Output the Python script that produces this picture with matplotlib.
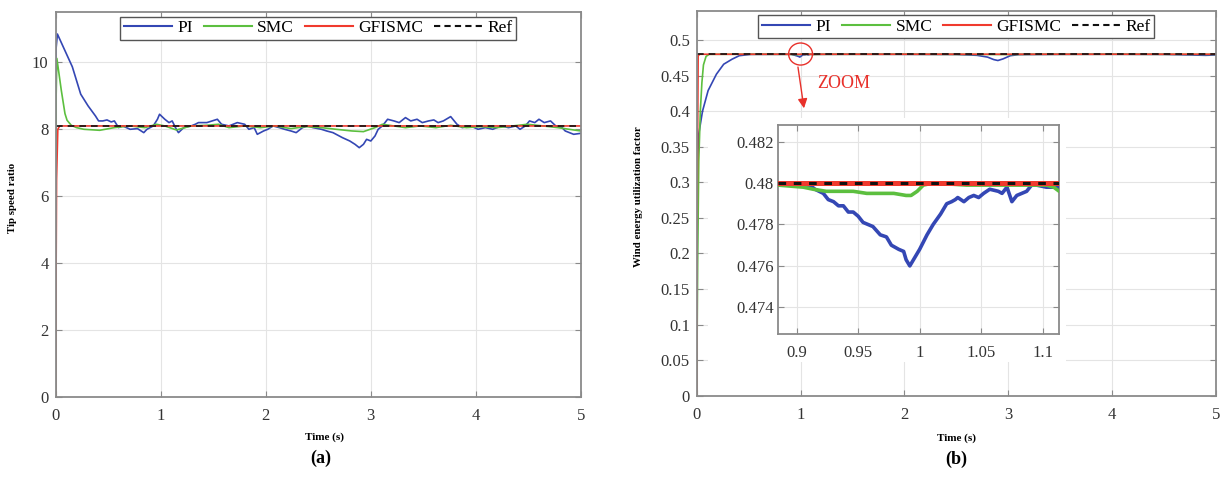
import matplotlib
matplotlib.use("Agg")
import matplotlib.pyplot as plt
import matplotlib.patches as mpatches
from matplotlib.lines import Line2D

plt.rcParams["font.family"] = ["Liberation Serif", "DejaVu Serif"]

# ---- data: panel (a) tip speed ratio ----
TSR_REF = 8.1
TSR_PI = [
    (0, 0), (0.005, 10.4), (0.018, 10.85), (0.073, 10.47), (0.16, 9.87), (0.24, 9.05),
    (0.31, 8.7), (0.38, 8.4), (0.41, 8.25), (0.45, 8.25), (0.49, 8.28), (0.53, 8.22),
    (0.56, 8.25), (0.6, 8.05), (0.64, 8.1), (0.71, 8.0), (0.78, 8.02), (0.84, 7.9),
    (0.87, 8.0), (0.93, 8.1), (0.97, 8.3), (0.99, 8.45), (1.04, 8.3), (1.08, 8.2),
    (1.11, 8.25), (1.15, 8.0), (1.17, 7.9), (1.22, 8.05), (1.29, 8.1), (1.33, 8.15),
    (1.36, 8.2), (1.44, 8.2), (1.54, 8.3), (1.58, 8.15), (1.65, 8.1), (1.73, 8.2),
    (1.8, 8.15), (1.84, 8.0), (1.89, 8.05), (1.92, 7.85), (1.98, 7.95), (2.02, 8.0),
    (2.07, 8.1), (2.13, 8.05), (2.18, 8.0), (2.24, 7.95), (2.29, 7.9), (2.35, 8.05),
    (2.4, 8.1), (2.45, 8.05), (2.53, 8.0), (2.58, 7.95), (2.64, 7.9), (2.73, 7.75),
    (2.8, 7.65), (2.85, 7.55), (2.89, 7.45), (2.93, 7.55), (2.96, 7.7), (3.0, 7.65),
    (3.04, 7.8), (3.07, 8.0), (3.11, 8.1), (3.16, 8.3), (3.22, 8.25), (3.27, 8.2),
    (3.33, 8.35), (3.38, 8.25), (3.44, 8.3), (3.49, 8.2), (3.55, 8.25), (3.6, 8.28),
    (3.64, 8.2), (3.69, 8.25), (3.76, 8.38), (3.82, 8.15), (3.87, 8.05), (3.95, 8.1),
    (4.02, 8.0), (4.09, 8.05), (4.16, 8.0), (4.24, 8.1), (4.31, 8.05), (4.38, 8.1),
    (4.42, 8.0), (4.47, 8.1), (4.51, 8.25), (4.56, 8.2), (4.6, 8.3), (4.65, 8.2),
    (4.71, 8.25), (4.76, 8.1), (4.82, 8.05), (4.85, 7.95), (4.93, 7.85), (5.0, 7.88),
]
TSR_SMC = [
    (0, 0), (0.006, 9.0), (0.013, 10.12), (0.055, 9.17), (0.09, 8.47), (0.11, 8.27),
    (0.15, 8.12), (0.2, 8.05), (0.27, 8.0), (0.42, 7.97), (0.56, 8.05), (0.71, 8.1),
    (0.85, 8.05), (0.96, 8.15), (1.04, 8.1), (1.15, 7.98), (1.29, 8.1), (1.44, 8.12),
    (1.55, 8.15), (1.65, 8.05), (1.8, 8.1), (1.95, 8.05), (2.09, 8.1), (2.24, 8.02),
    (2.38, 8.08), (2.53, 8.05), (2.67, 8.0), (2.82, 7.95), (2.93, 7.93), (3.04, 8.05),
    (3.11, 8.15), (3.22, 8.1), (3.33, 8.05), (3.47, 8.1), (3.62, 8.05), (3.76, 8.12),
    (3.91, 8.05), (4.05, 8.08), (4.2, 8.05), (4.35, 8.1), (4.49, 8.15), (4.64, 8.1),
    (4.78, 8.05), (4.93, 7.98), (5.0, 7.95),
]
TSR_GFISMC = [(0, 0), (0.01, 6.5), (0.022, 8.0), (0.04, 8.1), (5.0, 8.1)]

# ---- data: panel (b) wind energy utilization factor ----
CP_REF = 0.48
CP_PI = [
    (0, 0), (0.008, 0.33), (0.02, 0.368), (0.056, 0.40), (0.11, 0.429), (0.19, 0.452),
    (0.26, 0.466), (0.34, 0.473), (0.41, 0.478), (0.52, 0.4798), (0.7, 0.4799),
    (0.8846, 0.47995), (0.9, 0.4799), (0.9108, 0.4799), (0.9149, 0.4797), (0.9217, 0.4795),
    (0.9257, 0.4792), (0.930, 0.4791), (0.934, 0.4789), (0.938, 0.4789), (0.942, 0.4786),
    (0.946, 0.4786), (0.950, 0.4784), (0.954, 0.4781), (0.958, 0.4780), (0.962, 0.4779),
    (0.968, 0.4775), (0.973, 0.4774), (0.977, 0.4770), (0.983, 0.4768), (0.987, 0.4767),
    (0.989, 0.4763), (0.992, 0.4760), (0.996, 0.4764), (1.000, 0.4768), (1.006, 0.4775),
    (1.011, 0.4780), (1.017, 0.4785), (1.022, 0.4790), (1.026, 0.4791), (1.029, 0.4792),
    (1.031, 0.4793), (1.036, 0.4791), (1.040, 0.4793), (1.044, 0.4794), (1.048, 0.4793),
    (1.052, 0.4795), (1.057, 0.4797), (1.064, 0.4796), (1.067, 0.4795), (1.071, 0.4798),
    (1.075, 0.4791), (1.079, 0.4794), (1.083, 0.4795), (1.087, 0.4796), (1.091, 0.4799),
    (1.095, 0.4799), (1.103, 0.4798), (1.1135, 0.4798), (1.2, 0.4799), (1.5, 0.4800),
    (2.0, 0.4799), (2.5, 0.4797), (2.7, 0.4785), (2.8, 0.476), (2.86, 0.4725),
    (2.9, 0.4712), (2.95, 0.4735), (3.02, 0.478), (3.1, 0.4795), (3.5, 0.4799),
    (4.0, 0.4800), (4.5, 0.4798), (4.9, 0.4785), (5.0, 0.479),
]
CP_SMC = [
    (0, 0), (0.01, 0.2), (0.02, 0.33), (0.035, 0.40), (0.05, 0.44), (0.065, 0.465),
    (0.09, 0.477), (0.12, 0.4799), (0.5, 0.48), (0.8, 0.4799), (0.8846, 0.4799),
    (0.9054, 0.4798), (0.9135, 0.4797), (0.924, 0.4796), (0.935, 0.4796), (0.946, 0.4796),
    (0.957, 0.4795), (0.968, 0.4795), (0.979, 0.4795), (0.989, 0.4794), (0.993, 0.4794),
    (0.998, 0.4796), (1.003, 0.4799), (1.011, 0.4800), (1.038, 0.4799), (1.065, 0.4799),
    (1.103, 0.4799), (1.109, 0.4798), (1.1135, 0.4796), (1.2, 0.4799), (2.0, 0.48),
    (2.8, 0.4797), (3.0, 0.4796), (3.2, 0.4799), (4.0, 0.48), (5.0, 0.4798),
]
CP_GFISMC = [(0, 0), (0.006, 0.3), (0.014, 0.478), (0.03, 0.48), (5.0, 0.48)]

LABELS = ["PI", "SMC", "GFISMC", "Ref"]
COLORS = ["#3447b4", "#5cbf3f", "#f03a2e", "#111111"]

TSR_YTICKS = [0, 2, 4, 6, 8, 10]
CP_YTICKS = [0, 0.05, 0.1, 0.15, 0.2, 0.25, 0.3, 0.35, 0.4, 0.45, 0.5]
CP_YTICKLABELS = ["0", "0.05", "0.1", "0.15", "0.2", "0.25", "0.3", "0.35", "0.4", "0.45", "0.5"]
TIME_TICKS = [0, 1, 2, 3, 4, 5]
ZOOM_XTICKS = [0.9, 0.95, 1.0, 1.05, 1.1]
ZOOM_XTICKLABELS = ["0.9", "0.95", "1", "1.05", "1.1"]
ZOOM_YTICKS = [0.474, 0.476, 0.478, 0.48, 0.482]
ZOOM_YTICKLABELS = ["0.474", "0.476", "0.478", "0.48", "0.482"]

W, H = 1225, 478
SPINE = "#8a8a8a"
GRID = "#e4e4e4"
TXT = "#333333"
ZOOM_RED = "#e8302a"


def px_axes(fig, x0, y0, x1, y1):
    """Axes from pixel box (top-left origin)."""
    return fig.add_axes([x0 / W, (H - y1) / H, (x1 - x0) / W, (y1 - y0) / H])


def style(ax, fs=12):
    ax.grid(True, color=GRID, linewidth=0.8)
    ax.set_axisbelow(True)
    ax.tick_params(direction="in", top=True, right=True, length=4, width=0.8,
                   colors=SPINE, labelcolor=TXT, labelsize=fs, pad=5)
    ax.tick_params(axis="x", pad=8)
    for sp in ax.spines.values():
        sp.set_color(SPINE)
        sp.set_linewidth(1.3)


def draw(ax, pi, smc, gf, ref, lw=1.2, lw_ref=1.2, dash=(4, 3)):
    for data, col in zip([pi, smc, gf], COLORS[:3]):
        t, v = zip(*data)
        ax.plot(t, v, color=col, linewidth=lw)
    ax.axhline(ref, color=COLORS[3], linewidth=lw_ref, linestyle=(0, dash))


def legend(ax):
    handles = [Line2D([], [], color=c, linewidth=1.5) for c in COLORS[:3]]
    handles.append(Line2D([], [], color=COLORS[3], linewidth=1.5, linestyle=(0, (3, 2))))
    leg = ax.legend(handles, LABELS, loc="upper center", ncol=4, bbox_to_anchor=(0.5, 1.0),
                    fontsize=12.5, frameon=True, fancybox=False, framealpha=1,
                    edgecolor="#555555", handlelength=2.8, handletextpad=0.3,
                    columnspacing=0.6, borderpad=0.2, borderaxespad=0.25)
    leg.get_frame().set_linewidth(1.0)


fig = plt.figure(figsize=(W / 100, H / 100), dpi=100)

# ---- (a) ----
ax1 = px_axes(fig, 55.5, 12.3, 581, 396.7)
draw(ax1, TSR_PI, TSR_SMC, TSR_GFISMC, TSR_REF)
ax1.set_xlim(0, 5)
ax1.set_ylim(0, 11.5)
ax1.set_xticks(TIME_TICKS)
ax1.set_yticks(TSR_YTICKS)
style(ax1)
ax1.set_ylabel("Tip speed ratio", fontsize=7.8, fontweight="bold")
ax1.yaxis.set_label_coords(-0.073, 0.517)
ax1.set_xlabel("Time (s)", fontsize=8, fontweight="bold")
ax1.xaxis.set_label_coords(0.511, -0.094)
legend(ax1)
fig.text(321 / W, 1 - 458 / H, "(a)", fontsize=13, fontweight="bold", ha="center", va="center")

# ---- (b) ----
ax2 = px_axes(fig, 696.7, 11, 1216, 395.7)
draw(ax2, CP_PI, CP_SMC, CP_GFISMC, CP_REF)
ax2.set_xlim(0, 5)
ax2.set_ylim(0, 0.5408)
ax2.set_xticks(TIME_TICKS)
ax2.set_yticks(CP_YTICKS)
ax2.set_yticklabels(CP_YTICKLABELS)
style(ax2)
ax2.set_ylabel("Wind energy utilization factor", fontsize=7.8, fontweight="bold")
ax2.yaxis.set_label_coords(-0.103, 0.5165)
ax2.set_xlabel("Time (s)", fontsize=8, fontweight="bold")
ax2.xaxis.set_label_coords(0.501, -0.097)
legend(ax2)
fig.text(956 / W, 1 - 459 / H, "(b)", fontsize=13, fontweight="bold", ha="center", va="center")

# zoom marker
ax2.add_patch(mpatches.Ellipse((1.0, 0.4803), 0.23, 0.031, fill=False,
                               edgecolor=ZOOM_RED, linewidth=1.0, zorder=5))
ax2.annotate("", xy=(1.033, 0.404), xytext=(0.975, 0.462),
             arrowprops=dict(arrowstyle="-|>", color=ZOOM_RED, lw=1.0,
                             mutation_scale=14, shrinkA=0, shrinkB=0))
ax2.text(1.16, 0.439, "ZOOM", color=ZOOM_RED, fontsize=13, va="center", ha="left")

# white backing behind inset and its labels
fig.patches.append(mpatches.Rectangle((708 / W, (H - 362) / H), (1066 - 708) / W, (362 - 118) / H,
                                      transform=fig.transFigure, facecolor="white",
                                      edgecolor="none", zorder=1))

axz = px_axes(fig, 777.7, 125, 1059, 334.3)
axz.set_zorder(2)
for data, col in zip([CP_PI, CP_SMC], COLORS[:2]):
    t, v = zip(*data)
    axz.plot(t, v, color=col, linewidth=2.6, zorder=3)
t, v = zip(*CP_GFISMC)
axz.plot(t, v, color=COLORS[2], linewidth=3.6, zorder=4)
axz.axhline(CP_REF, color=COLORS[3], linewidth=2.2, linestyle=(0, (2.5, 2.5)), zorder=5)
axz.set_xlim(0.8846, 1.1133)
axz.set_ylim(0.4727, 0.4828)
axz.set_xticks(ZOOM_XTICKS)
axz.set_xticklabels(ZOOM_XTICKLABELS)
axz.set_yticks(ZOOM_YTICKS)
axz.set_yticklabels(ZOOM_YTICKLABELS)
style(axz, fs=12)
axz.tick_params(axis="y", pad=3)
axz.tick_params(axis="x", pad=8)

fig.savefig("out.png", dpi=100, facecolor="white")
